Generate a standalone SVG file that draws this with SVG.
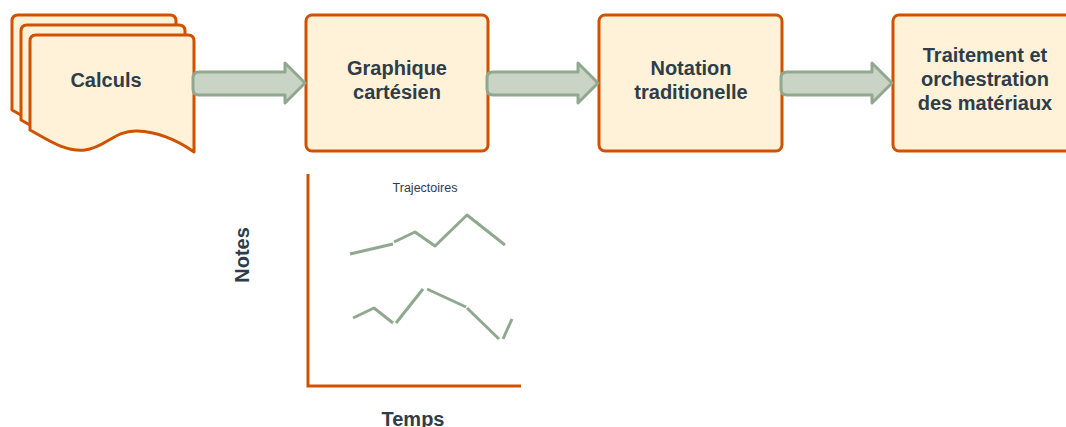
<svg xmlns="http://www.w3.org/2000/svg" width="1066" height="427" viewBox="0 0 1066 427">
<style>
.box{fill:#fff2d9;stroke:#d05200;stroke-width:3;stroke-linejoin:round}
.lbl{font-family:"Liberation Sans",Arial,sans-serif;font-weight:bold;font-size:20px;fill:#2e3d47;text-anchor:middle}
.arr{fill:#c9d4c6;stroke:#8fa88e;stroke-width:3;stroke-linejoin:round}
.axis{fill:none;stroke:#d05200;stroke-width:3}
.traj{fill:none;stroke:#8fa88e;stroke-width:3;stroke-linejoin:round}
</style>
<rect width="1066" height="427" fill="#ffffff"/>
<g id="calculs">
<path class="box" d="M12,110 L12,21 Q12,15 18,15 L170,15 Q176,15 176,21 L176,132 C162,122 142,112 119,111 C97,110 87,128 67,130 C47,132 30,120 12,110 Z"/>
<path class="box" d="M21,120 L21,31 Q21,25 27,25 L179,25 Q185,25 185,31 L185,142 C171,132 151,122 128,121 C106,120 96,138 76,140 C56,142 39,130 21,120 Z"/>
<path class="box" d="M30,130 L30,41 Q30,35 36,35 L188,35 Q194,35 194,41 L194,152 C180,142 160,132 137,131 C115,130 105,148 85,150 C65,152 48,140 30,130 Z"/>
<text class="lbl" x="106" y="87">Calculs</text>
</g>
<g id="graphique">
<rect class="box" x="306" y="15" width="182" height="136" rx="6"/>
<text class="lbl" x="397" y="75">Graphique</text>
<text class="lbl" x="397" y="99">cartésien</text>
</g>
<g id="notation">
<rect class="box" x="599" y="15" width="183" height="136" rx="6"/>
<text class="lbl" x="691" y="75">Notation</text>
<text class="lbl" x="691" y="99">traditionelle</text>
</g>
<g id="traitement">
<rect class="box" x="893" y="15" width="182" height="136" rx="6"/>
<text class="lbl" x="985" y="62">Traitement et</text>
<text class="lbl" x="985" y="86">orchestration</text>
<text class="lbl" x="985" y="110">des matériaux</text>
</g>
<g id="connectors">
<path class="arr" d="M199,72 L285,72 L285,63 L305,83 L285,103 L285,95 L199,95 Q193,95 193,89 L193,78 Q193,72 199,72 Z"/>
<path class="arr" d="M493,72 L578,72 L578,63 L598,83 L578,103 L578,95 L493,95 Q487,95 487,89 L487,78 Q487,72 493,72 Z"/>
<path class="arr" d="M787,72 L872,72 L872,63 L892,83 L872,103 L872,95 L787,95 Q781,95 781,89 L781,78 Q781,72 787,72 Z"/>
</g>
<g id="chart">
<polyline class="axis" points="308,174 308,386 521,386"/>
<text x="425" y="192" font-family="'Liberation Sans',Arial,sans-serif" font-size="12.5" fill="#2e3d47" text-anchor="middle">Trajectoires</text>
<text class="lbl" transform="translate(249,255) rotate(-90)">Notes</text>
<text class="lbl" x="413" y="426">Temps</text>
<polyline class="traj" points="350,254 393,244"/>
<polyline class="traj" points="394,242 415,232 435,246 467,215 505,245"/>
<polyline class="traj" points="353,318 374,308 393,323"/>
<polyline class="traj" points="396,323 423,289"/>
<polyline class="traj" points="427,289 466,307"/>
<polyline class="traj" points="467,308 499,339"/>
<polyline class="traj" points="503,339 512,319"/>
</g>
</svg>
